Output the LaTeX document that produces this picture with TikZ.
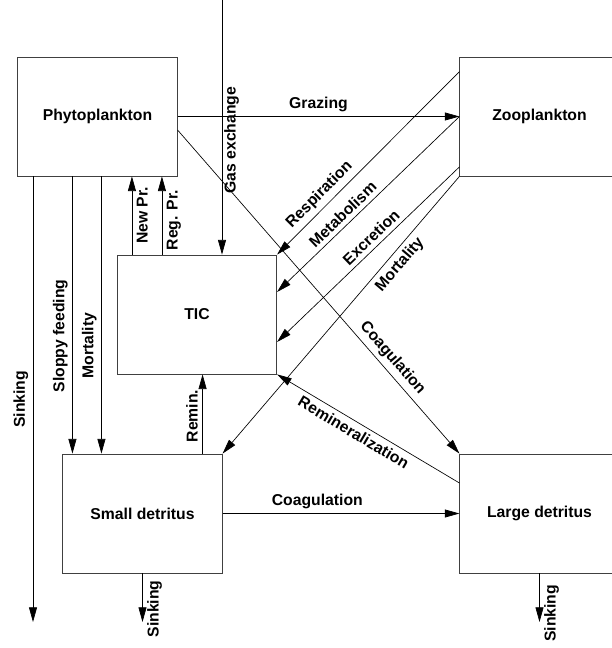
\documentclass[tikz,border=0pt]{standalone}
\usepackage{fontspec}
\setmainfont{Liberation Sans}
\usetikzlibrary{arrows.meta,calc}

\begin{document}
\begin{tikzpicture}[x=0.75pt,y=-0.75pt,>={Triangle[length=11pt,width=6pt]},  % pixel units, y pointing down
    every node/.style={font=\fontsize{11.8}{14}\selectfont\bfseries},
    box/.style={draw=black!75,line width=0.6pt,minimum width=119.5pt,minimum height=89.25pt},
    flow/.style={->,line width=0.5pt}]
    \useasboundingbox (0,0) rectangle (611,648);

    % Compartments
    \node[box] (phyto) at (97.5,116.5) {Phytoplankton};
    \node[box] (zoo) at (539.5,116.5) {Zooplankton};
    \node[box] (tic) at (197,314.5) {TIC};
    \node[box] (small) at (142.5,513.5) {Small detritus};
    \node[box] (large) at (539.5,513.5) {Large detritus};

    % Free ends and attachment points
    \coordinate (gas) at (222,0);
    \coordinate (sinkP) at (33,622);
    \coordinate (sinkS) at (small.south |- sinkP);
    \coordinate (sinkL) at (large.south |- sinkP);
    \coordinate (sloppy) at ($(small.north west)+(10,0)$);
    \coordinate (mortP) at ($(small.north west)+(39,0)$);
    \coordinate (newpr) at ($(tic.north west)+(15,0)$);
    \coordinate (regpr) at ($(tic.north west)+(45,0)$);
    \coordinate (remin) at ($(small.north east)+(-20,0)$);

    % Horizontal fluxes
    \draw[flow] (phyto) -- node[above,pos=0.5] {Grazing} (zoo);
    \draw[flow] (small) -- node[above,pos=0.4] {Coagulation} (large);

    % Vertical fluxes
    \draw[flow] (gas) -- node[rotate=90,anchor=north,pos=0.55,inner sep=1.5pt] {Gas exchange} (gas |- tic.north);
    \draw[flow] (phyto.south -| sinkP) -- node[rotate=90,anchor=south,pos=0.5] {Sinking} (sinkP);
    \draw[flow] (phyto.south -| sloppy) -- node[rotate=90,anchor=south,pos=0.575] {Sloppy feeding} (sloppy);
    \draw[flow] (phyto.south -| mortP) -- node[rotate=90,anchor=south,pos=0.61] {Mortality} (mortP);
    \draw[flow] (newpr) -- node[rotate=90,anchor=north,pos=0.5] {New Pr.} (newpr |- phyto.south);
    \draw[flow] (regpr) -- node[rotate=90,anchor=north,pos=0.44] {Reg. Pr.} (regpr |- phyto.south);
    \draw[flow] (remin) -- node[rotate=90,anchor=south,pos=0.475] {Remin.} (remin |- tic.south);
    \draw[flow] (small.south) -- node[rotate=90,anchor=north,pos=0.73] {Sinking} (sinkS);
    \draw[flow] (large.south) -- node[rotate=90,anchor=north,pos=0.82] {Sinking} (sinkL);

    % Diagonal fluxes
    \draw[flow] ($(phyto.east)+(0,13.5)$) -- node[sloped,above,pos=0.73] {Coagulation} (large.north west);
    \draw[flow] ($(zoo.north west)+(0,15)$) -- node[sloped,above,pos=0.72] {Respiration} (tic.north east);
    \draw[flow] (zoo.west) -- node[sloped,above,pos=0.6] {Metabolism} ($(tic.east)+(0,-22.5)$);
    \draw[flow] ($(zoo.south west)+(0,-9.5)$) -- node[sloped,above,pos=0.445] {Excretion} ($(tic.east)+(0,27.5)$);
    \draw[flow] (zoo.south west) -- node[sloped,below,pos=0.29] {Mortality} (small.north east);
    \draw[flow] ($(large.west)+(0,-30.5)$) -- node[sloped,below,pos=0.55] {Remineralization} (tic.south east);
\end{tikzpicture}
\end{document}
